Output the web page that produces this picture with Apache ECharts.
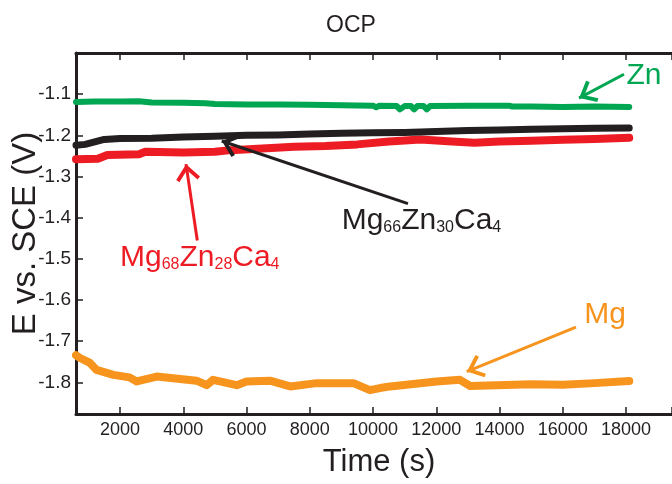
<!DOCTYPE html>
<html>
<head>
<meta charset="utf-8">
<script src="https://cdn.jsdelivr.net/npm/echarts@6/dist/echarts.min.js"></script>
<style>
html, body { margin: 0; padding: 0; background: #fff; }
#ocp { width: 672px; height: 484px; }
</style>
</head>
<body>
<div id="ocp"></div>
<script>
// [time (s), E vs. SCE (V)]
var znData = [
    [609, -1.119], [1200, -1.118], [2000, -1.118], [2600, -1.117], [3000, -1.120],
    [4000, -1.121], [4700, -1.122], [5000, -1.124], [6000, -1.125], [7000, -1.125],
    [8000, -1.126], [9000, -1.127], [10000, -1.128], [10100, -1.132], [10200, -1.128],
    [10750, -1.129], [10850, -1.137], [11000, -1.129], [11200, -1.129], [11300, -1.137],
    [11400, -1.129], [11600, -1.129], [11700, -1.137], [11800, -1.129], [13000, -1.128],
    [14300, -1.128], [14400, -1.130], [15000, -1.130], [16000, -1.131], [17000, -1.130],
    [18100, -1.131]
];
var mg68Data = [
    [609, -1.258], [1300, -1.257], [1600, -1.248], [2600, -1.246], [2800, -1.240],
    [4000, -1.242], [5000, -1.240], [5500, -1.236], [6500, -1.232], [7500, -1.228],
    [8500, -1.226], [9500, -1.222], [10500, -1.215], [11500, -1.210], [12500, -1.215],
    [13200, -1.218], [14000, -1.215], [15000, -1.213], [16000, -1.211], [17000, -1.209],
    [18100, -1.206]
];
var mg66Data = [
    [609, -1.224], [900, -1.222], [1200, -1.216], [1500, -1.210], [2000, -1.208],
    [3000, -1.207], [4000, -1.204], [5000, -1.202], [6000, -1.200], [7000, -1.199],
    [8000, -1.197], [9000, -1.195], [10000, -1.194], [11000, -1.193], [12000, -1.191],
    [13000, -1.188], [14000, -1.187], [15000, -1.185], [16000, -1.184], [17000, -1.183],
    [18100, -1.182]
];
var mgData = [
    [609, -1.734], [735, -1.741], [1050, -1.753], [1260, -1.770], [1790, -1.782],
    [2300, -1.788], [2530, -1.798], [3160, -1.786], [4420, -1.796], [4740, -1.807],
    [4940, -1.794], [5690, -1.807], [6000, -1.798], [6740, -1.796], [7380, -1.810],
    [8220, -1.802], [9380, -1.802], [9900, -1.819], [10220, -1.814], [10540, -1.810],
    [12010, -1.798], [12750, -1.794], [13070, -1.809], [13910, -1.807], [15000, -1.805],
    [16000, -1.806], [17000, -1.802], [18100, -1.797]
];

var xRange = [609, 19452];
var yRange = [-1.877, -1.0];
var xTickLabels = [2000, 4000, 6000, 8000, 10000, 12000, 14000, 16000, 18000];
var yTickLabels = [-1.1, -1.2, -1.3, -1.4, -1.5, -1.6, -1.7, -1.8];

// arrows: [tail, head], label anchors, in data units
var znArrow = [[17934, -1.0516], [16512, -1.1097]];
var mg66Arrow = [[11105, -1.366], [5215, -1.2137]];
var mg68Arrow = [[4444, -1.4557], [4087, -1.270]];
var mgArrow = [[16417, -1.666], [12961, -1.774]];
var znLabelAt = [18566, -1.0564];
var mg66LabelAt = [9009, -1.4065];
var mg68LabelAt = [2000, -1.498];
var mgLabelAt = [17334, -1.6347];

var font = 'Liberation Sans, Arial, sans-serif';
var ink = '#231f20';
// open arrow head, tip sits at the symbol centre
var chevron = 'path://M12,-17 L12.01,-17 L12,-16.99 Z M12,0 L24,14 L21.2,16.6 L12,6 L2.8,16.6 L0,14 Z';

function curve(name, data, color, width, arrow, labelAt, text, pos) {
    return {
        name: name,
        type: 'line',
        data: data,
        symbol: 'none',
        showSymbol: false,
        silent: true,
        animation: false,
        lineStyle: { color: color, width: width, cap: 'round', join: 'round' },
        markLine: {
            silent: true,
            animation: false,
            symbol: ['none', chevron],
            symbolSize: [24, 34],
            lineStyle: { color: color, width: 3, type: 'solid' },
            label: { show: false },
            data: [[{ coord: arrow[0] }, { coord: arrow[1] }]]
        },
        markPoint: {
            silent: true,
            animation: false,
            symbol: 'circle',
            symbolSize: 0,
            label: {
                show: true,
                position: pos,
                distance: 0,
                color: color,
                fontSize: 30,
                fontFamily: font,
                formatter: text,
                rich: {
                    b: { fontSize: 30, color: color, fontFamily: font },
                    s: { fontSize: 16, color: color, fontFamily: font, verticalAlign: 'bottom' }
                }
            },
            data: [{ coord: labelAt }]
        }
    };
}

var myChart = echarts.init(document.getElementById('ocp'));

var tickStyle = { show: true, inside: true, length: 7, lineStyle: { color: ink, width: 1.5 } };
var lineAxis = { show: true, onZero: false, lineStyle: { color: ink, width: 3 } };

var option = {
    backgroundColor: '#fff',
    title: {
        text: 'OCP',
        left: 346,
        top: 9,
        textAlign: 'center',
        textStyle: { fontSize: 23, fontWeight: 'normal', color: ink, fontFamily: font }
    },
    grid: { left: 76, right: 0, top: 53, bottom: 70, containLabel: false, outerBoundsMode: 'none' },
    xAxis: [{
        type: 'value',
        position: 'bottom',
        min: xRange[0],
        max: xRange[1],
        splitNumber: 10,
        name: 'Time (s)',
        nameLocation: 'middle',
        nameGap: 33,
        nameMoveOverlap: false,
        nameTextStyle: { fontSize: 31, color: ink, fontFamily: font, padding: [0, 0, 0, 10] },
        axisLine: lineAxis,
        axisTick: tickStyle,
        splitLine: { show: false },
        axisLabel: {
            fontSize: 18, color: ink, fontFamily: font, margin: 7,
            formatter: function (v) { return xTickLabels.indexOf(v) >= 0 ? String(v) : ''; }
        }
    }, {
        type: 'value',
        position: 'top',
        min: xRange[0],
        max: xRange[1],
        splitNumber: 10,
        axisLine: lineAxis,
        axisTick: tickStyle,
        splitLine: { show: false },
        axisLabel: { show: false }
    }],
    yAxis: {
        type: 'value',
        min: yRange[0],
        max: yRange[1],
        splitNumber: 9,
        name: 'E vs. SCE (V)',
        nameLocation: 'middle',
        nameRotate: 90,
        nameGap: 34,
        nameMoveOverlap: false,
        nameTextStyle: { fontSize: 33, color: ink, fontFamily: font },
        axisLine: lineAxis,
        axisTick: tickStyle,
        splitLine: { show: false },
        axisLabel: {
            fontSize: 19, color: ink, fontFamily: font, margin: 5,
            formatter: function (v) {
                var r = Math.round(v * 10) / 10;
                return (Math.abs(v - r) < 1e-6 && yTickLabels.indexOf(r) >= 0) ? r.toFixed(1) : '';
            }
        }
    },
    series: [
        curve('Zn', znData, '#00a651', 6, znArrow, znLabelAt, 'Zn', 'inside'),
        curve('Mg68Zn28Ca4', mg68Data, '#ed1c24', 8, mg68Arrow, mg68LabelAt,
            '{b|Mg}{s|68}{b|Zn}{s|28}{b|Ca}{s|4}', 'right'),
        curve('Mg66Zn30Ca4', mg66Data, ink, 7, mg66Arrow, mg66LabelAt,
            '{b|Mg}{s|66}{b|Zn}{s|30}{b|Ca}{s|4}', 'right'),
        curve('Mg', mgData, '#f7941d', 8, mgArrow, mgLabelAt, 'Mg', 'inside')
    ]
};

myChart.setOption(option);
window.addEventListener('resize', function () {
    myChart.resize();
});
</script>
</body>
</html>
